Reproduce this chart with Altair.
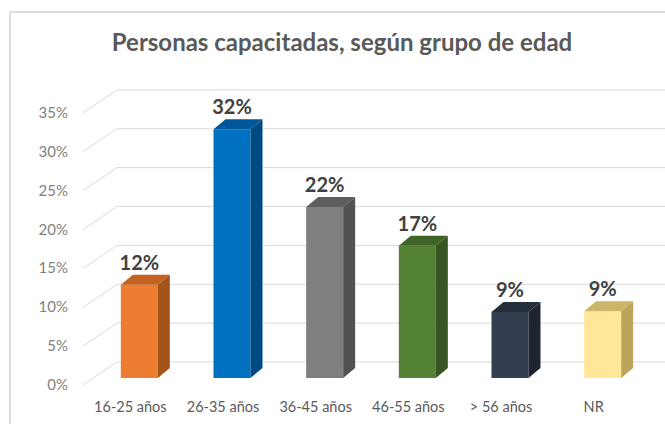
import altair as alt
import pandas as pd

# ---- data ----
title_text = ["Personas capacitadas, según grupo de edad"]
categories = ["16-25 años", "26-35 años", "36-45 años", "46-55 años", "> 56 años", "NR"]
values = [0.12, 0.32, 0.22, 0.17, 0.085, 0.086]
value_labels = ["12%", "32%", "22%", "17%", "9%", "9%"]
tick_values = [0.0, 0.05, 0.10, 0.15, 0.20, 0.25, 0.30, 0.35]
tick_labels = ["0%", "5%", "10%", "15%", "20%", "25%", "30%", "35%"]

# ---- styles ----
front_colors = ["#ED7D31", "#0070C0", "#7F7F7F", "#548235", "#333F50", "#FFE699"]
top_colors = ["#C4631F", "#00589A", "#5E5E5E", "#3F6428", "#252E3B", "#CDB56A"]
side_colors = ["#A4531B", "#004A84", "#525252", "#365523", "#1E2530", "#BCA45C"]
FONT = "Lato"

# pixel geometry helpers (plot area: 556 x 311)
W, H = 556, 311
PX_X = W / 6.0           # pixels per category unit (domain -0.5..5.5)
PX_Y = H / 0.40          # pixels per unit of value (domain 0..0.40)
BAR_W = 37
DEPTH_X = 12
DEPTH_Y = 10

hw = BAR_W / 2 / PX_X
dx = DEPTH_X / PX_X
dy = DEPTH_Y / PX_Y

bars = pd.DataFrame({
    "idx": list(range(len(categories))),
    "cat": categories,
    "value": values,
    "label": value_labels,
    "front": front_colors,
})
bars["xl"] = bars["idx"] - hw
bars["xr"] = bars["idx"] + hw
bars["ytop"] = bars["value"] + dy
bars["xlab"] = bars["idx"] - 9 / PX_X

rows = []
for i, v in enumerate(values):
    xl, xr = i - hw, i + hw
    # top face
    for x, y1, y2 in [(xl, v, v), (xl + dx, v + dy, v), (xr, v + dy, v), (xr + dx, v + dy, v + dy)]:
        rows.append({"key": f"t{i}", "col": top_colors[i], "x": x, "y": y1, "y2": y2})
    # side face
    for x, y1, y2 in [(xr, v, 0.0), (xr + dx, v + dy, dy)]:
        rows.append({"key": f"s{i}", "col": side_colors[i], "x": x, "y": y1, "y2": y2})
faces = pd.DataFrame(rows)

ticks = pd.DataFrame({"v": tick_values, "lab": tick_labels})
ticks["front"] = ticks["v"] - 7 / PX_Y
ticks["back"] = ticks["v"] + 16 / PX_Y

xscale = alt.Scale(domain=[-0.5, 5.5], nice=False, zero=False)
yscale = alt.Scale(domain=[0, 0.40], nice=False)

grid_col = "#D9D9D9"

back_grid = alt.Chart(ticks).mark_rule(color=grid_col, strokeWidth=1).encode(
    x=alt.value(24), x2=alt.value(W + 16),
    y=alt.Y("back:Q", scale=yscale, axis=None),
)
diag = alt.Chart(ticks).mark_rule(color=grid_col, strokeWidth=1).encode(
    x=alt.value(-10), x2=alt.value(24),
    y=alt.Y("front:Q", scale=yscale, axis=None),
    y2="back:Q",
)
ylabels = alt.Chart(ticks).mark_text(
    align="right", baseline="middle", font=FONT, fontSize=15, color="#7F7F7F"
).encode(
    x=alt.value(-25),
    y=alt.Y("front:Q", scale=yscale, axis=None),
    text="lab:N",
)

front = alt.Chart(bars).mark_rect().encode(
    x=alt.X("xl:Q", scale=xscale, axis=None),
    x2="xr:Q",
    y=alt.Y("value:Q", scale=yscale, axis=None),
    y2=alt.datum(0),
    color=alt.Color("front:N", scale=None),
)

faces_layer = alt.Chart(faces).mark_area(orient="vertical", interpolate="linear").encode(
    x=alt.X("x:Q", scale=xscale, axis=None),
    y=alt.Y("y:Q", scale=yscale, axis=None, stack=None),
    y2="y2:Q",
    color=alt.Color("col:N", scale=None),
    detail="key:N",
)

vlabels = alt.Chart(bars).mark_text(
    align="center", baseline="alphabetic", dy=-5, font=FONT, fontSize=20,
    fontWeight="bold", color="#404040"
).encode(
    x=alt.X("idx:Q", scale=xscale, axis=None),
    y=alt.Y("ytop:Q", scale=yscale, axis=None),
    text="label:N",
)

xlabels = alt.Chart(bars).mark_text(
    align="center", baseline="middle", font=FONT, fontSize=14.5, color="#595959"
).encode(
    x=alt.X("xlab:Q", scale=xscale, axis=None),
    y=alt.value(341),
    text="cat:N",
)

title = alt.Chart(pd.DataFrame({"t": title_text})).mark_text(
    align="center", baseline="middle", font=FONT, fontSize=24,
    fontWeight="bold", color="#595959"
).encode(
    x=alt.value(249), y=alt.value(-23), text="t:N",
)

border = alt.Chart(bars).mark_rule(color="#DCDCDC", strokeWidth=2).encode(
    x=alt.value(-83), x2=alt.value(-83), y=alt.value(-55), y2=alt.value(H + 60),
)
border_top = alt.Chart(bars).mark_rule(color="#DCDCDC", strokeWidth=2).encode(
    x=alt.value(-83), x2=alt.value(W + 20), y=alt.value(-55), y2=alt.value(-55),
)

chart = alt.layer(
    border, border_top, back_grid, diag, ylabels, front, faces_layer, vlabels, xlabels, title
).properties(
    width=W, height=H,
    autosize=alt.AutoSizeParams(type="none"),
    padding={"left": 93, "top": 67, "right": 16, "bottom": 46},
    background="white",
).configure_view(stroke=None)

chart.save("out.html", embed_options={"renderer": "svg", "actions": False})
